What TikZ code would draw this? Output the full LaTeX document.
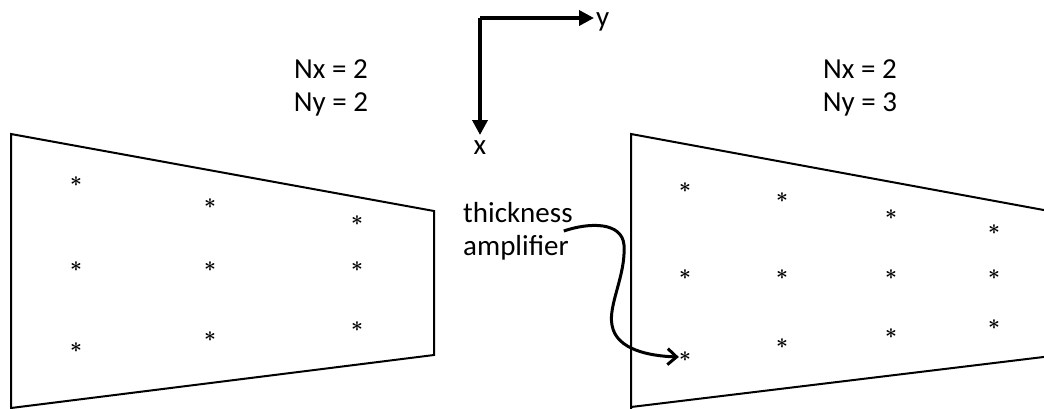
\documentclass[tikz,border=0pt]{standalone}
\usepackage{amsmath}
\usepackage{fontspec}
\setmainfont{Carlito}
\usetikzlibrary{arrows.meta}

\begin{document}
\begin{tikzpicture}[x=1pt, y=-1pt,
  placa/.style={draw, line width=2pt, line join=miter},
  punto/.style={inner sep=0pt, font=\fontsize{21}{21}\selectfont},
  eje/.style={-{Triangle[length=15pt, width=15pt]}, line width=3.5pt},
  etiqueta/.style={inner sep=0pt, align=center, font=\fontsize{29}{33}\selectfont},
  flecha/.style={-{Straight Barb[length=9pt, width=16pt]}, line width=3pt}]
\useasboundingbox (0,0) rectangle (1044,408);
% two plates
\draw[placa] (11,412) -- (11,134) -- (434,211) -- (434,355) -- (11,408);
\draw[placa] (631,412) -- (631,134) -- (1060,213) -- (1060,355) -- (631,407);
% integration points
\foreach \x/\ya/\yb/\yc [count=\i] in {76/182/267/348, 210/204/267/337, 357/221/267/327}
  {\node[punto] (iz\i-1) at (\x,\ya) {$\boldsymbol{\ast}$};
   \node[punto] (iz\i-2) at (\x,\yb) {$\boldsymbol{\ast}$};
   \node[punto] (iz\i-3) at (\x,\yc) {$\boldsymbol{\ast}$};}
\foreach \x/\ya/\yb/\yc [count=\i] in {685/188/275/357, 782/198/275/344, 891/215/275/334, 994/230/275/325}
  {\node[punto] (de\i-1) at (\x,\ya) {$\boldsymbol{\ast}$};
   \node[punto] (de\i-2) at (\x,\yb) {$\boldsymbol{\ast}$};
   \node[punto] (de\i-3) at (\x,\yc) {$\boldsymbol{\ast}$};}
\node[etiqueta] (nizq) at (331,88) {Nx = 2\\ Ny = 2};
\node[etiqueta] (nder) at (860,88) {Nx = 2\\ Ny = 3};
% axes
\coordinate (o) at (480,18);
\node[etiqueta, anchor=west, inner sep=2pt] (ylab) at (594,22) {y};
\node[etiqueta, anchor=north, inner sep=2pt] (xlab) at (480,138) {x};
\draw[eje] (o) -- (o -| ylab.west);
\draw[eje] (o) -- ([yshift=3pt]xlab.north);
% amplifier
\node[etiqueta, align=left, anchor=west] (amp) at (463,231) {thickness\\ amplifier};
\draw[flecha] ([xshift=-9pt]amp.east) .. controls (590,222) and (622,222) .. (624,245)
  .. controls (626,275) and (608,305) .. (612,325)
  .. controls (616,350) and (650,356) .. (de1-3.west);
\end{tikzpicture}
\end{document}
